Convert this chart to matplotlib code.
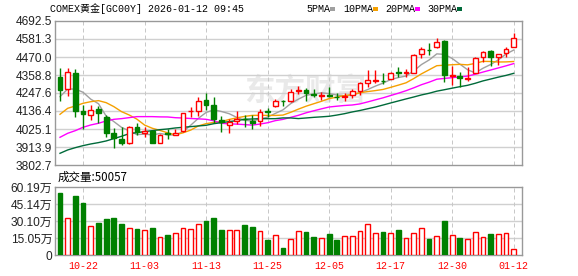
import matplotlib
matplotlib.use("Agg")
import matplotlib.pyplot as plt
from matplotlib.patches import Rectangle

# ---------------- data ----------------
opens = [4348.7, 4270.4, 4373.4, 4138.7, 4113.9, 4146.9, 4097.5, 3998.6, 3963.6, 3941.0,
         4035.7, 4002.8, 4013.0, 3941.0, 3998.6, 3988.3, 4013.0, 4134.0, 4136.6, 4204.5,
         4173.6, 4081.0, 4048.0, 4077.0, 4089.0, 4076.9, 4076.9, 4134.5, 4167.5, 4200.4,
         4198.4, 4260.0, 4266.2, 4241.6, 4231.0, 4233.0, 4225.0, 4223.0, 4235.4, 4262.2,
         4311.6, 4323.0, 4323.0, 4336.3, 4375.5, 4371.0, 4373.4, 4486.6, 4515.4, 4529.9,
         4569.0, 4352.0, 4352.0, 4334.0, 4373.4, 4468.0, 4507.2, 4472.2, 4492.8, 4534.0]
highs = [4400.0, 4404.3, 4396.0, 4173.6, 4173.6, 4167.5, 4111.9, 4029.5, 4039.8, 4044.0,
         4060.4, 4035.7, 4019.2, 3994.5, 4027.5, 4027.5, 4126.3, 4159.0, 4225.0, 4249.8,
         4221.0, 4107.8, 4085.0, 4138.7, 4111.9, 4111.9, 4146.9, 4157.0, 4210.7, 4204.5,
         4272.5, 4291.0, 4276.6, 4270.4, 4256.0, 4286.9, 4245.7, 4249.8, 4270.4, 4317.8,
         4389.9, 4389.9, 4373.4, 4379.6, 4406.3, 4394.0, 4486.6, 4534.0, 4554.6, 4585.5,
         4578.0, 4414.0, 4378.0, 4410.0, 4468.0, 4507.2, 4513.4, 4486.6, 4534.0, 4616.3]
lows = [4200.0, 4229.3, 4097.5, 4023.4, 4081.0, 4060.4, 3978.0, 3906.0, 3926.6, 3930.7,
        3988.3, 3974.0, 3936.9, 3937.0, 3965.7, 3986.0, 4006.9, 4101.6, 4105.7, 4142.8,
        4064.5, 4008.9, 3998.6, 4056.3, 4039.8, 4025.4, 4044.0, 4097.5, 4159.2, 4167.5,
        4194.0, 4241.6, 4200.4, 4221.0, 4204.5, 4225.0, 4204.5, 4200.4, 4214.8, 4235.4,
        4287.0, 4307.5, 4303.4, 4332.2, 4348.7, 4344.6, 4373.4, 4461.9, 4482.5, 4523.7,
        4317.8, 4300.0, 4287.0, 4324.0, 4369.3, 4441.3, 4414.5, 4420.7, 4468.0, 4529.9]
closes = [4266.3, 4379.6, 4138.7, 4120.1, 4142.8, 4126.3, 3998.6, 3967.8, 3941.0, 4035.7,
          4009.0, 4015.1, 3941.0, 3986.3, 3994.5, 4002.8, 4122.2, 4137.0, 4200.4, 4173.6,
          4085.0, 4070.7, 4068.6, 4085.0, 4085.0, 4064.5, 4128.4, 4130.4, 4198.4, 4196.3,
          4256.0, 4266.2, 4249.8, 4237.5, 4235.0, 4231.0, 4221.0, 4227.0, 4260.0, 4307.5,
          4328.0, 4327.0, 4320.0, 4369.3, 4371.4, 4375.0, 4482.6, 4517.5, 4511.3, 4560.8,
          4359.0, 4356.0, 4343.0, 4338.0, 4461.9, 4503.0, 4472.2, 4486.6, 4517.5, 4585.5]

ma5 = [4225.0, 4272.0, 4272.0, 4252.0, 4209.5, 4181.5, 4105.3, 4071.1, 4035.3, 4013.9,
       3990.4, 3993.7, 3988.4, 3997.4, 3989.2, 3987.9, 4009.4, 4048.6, 4091.4, 4127.2,
       4143.6, 4133.3, 4119.7, 4096.6, 4078.9, 4074.8, 4086.3, 4098.7, 4121.3, 4143.6,
       4181.9, 4209.5, 4233.3, 4241.2, 4248.9, 4243.9, 4234.9, 4230.3, 4234.8, 4249.3,
       4268.7, 4289.9, 4308.5, 4330.4, 4343.1, 4352.5, 4383.7, 4423.2, 4451.6, 4489.4,
       4486.2, 4460.9, 4426.0, 4391.4, 4371.6, 4400.4, 4423.6, 4452.3, 4488.2, 4513.0]
ma10 = [4115.9, 4153.0, 4167.5, 4184.0, 4194.0, 4200.4, 4188.0, 4163.4, 4132.5, 4111.7,
        4086.0, 4049.5, 4029.7, 4016.4, 4001.5, 3989.2, 4001.5, 4018.5, 4044.4, 4058.2,
        4065.8, 4071.4, 4084.1, 4094.0, 4103.0, 4109.2, 4109.8, 4109.2, 4109.0, 4111.2,
        4128.3, 4147.9, 4166.0, 4181.3, 4196.3, 4212.9, 4222.2, 4231.8, 4238.0, 4249.1,
        4256.3, 4262.4, 4269.4, 4282.6, 4296.2, 4310.6, 4336.8, 4365.8, 4391.0, 4416.3,
        4419.4, 4422.3, 4424.6, 4421.5, 4430.5, 4443.3, 4442.3, 4439.2, 4439.8, 4442.3]
ma20 = [3973.9, 3998.6, 4015.1, 4035.7, 4050.1, 4060.4, 4074.8, 4085.0, 4089.2, 4095.4,
        4101.6, 4101.6, 4101.6, 4100.0, 4099.5, 4095.0, 4093.0, 4090.0, 4088.0, 4085.0,
        4075.9, 4060.5, 4056.9, 4055.2, 4052.3, 4049.2, 4055.7, 4063.9, 4076.7, 4084.7,
        4097.1, 4109.7, 4125.1, 4137.7, 4149.7, 4161.1, 4166.0, 4170.5, 4173.5, 4180.2,
        4192.3, 4205.2, 4217.7, 4232.0, 4246.3, 4261.8, 4279.5, 4298.8, 4314.5, 4332.7,
        4337.9, 4342.4, 4347.0, 4352.1, 4363.4, 4377.0, 4389.6, 4402.5, 4415.4, 4429.3]
ma30 = [3875.0, 3895.7, 3910.0, 3922.4, 3932.7, 3941.0, 3951.3, 3965.7, 3980.1, 3996.6,
        4002.8, 4009.0, 4015.0, 4021.0, 4025.4, 4031.6, 4035.7, 4039.8, 4044.0, 4048.0,
        4058.0, 4064.5, 4070.7, 4076.9, 4085.0, 4087.0, 4089.0, 4089.0, 4089.0, 4093.7,
        4093.4, 4089.6, 4093.3, 4097.2, 4100.3, 4103.8, 4111.2, 4119.8, 4130.5, 4139.5,
        4150.1, 4160.6, 4173.2, 4186.0, 4198.5, 4210.9, 4222.9, 4235.6, 4246.0, 4258.9,
        4268.0, 4277.5, 4286.7, 4295.1, 4307.7, 4322.3, 4333.8, 4345.6, 4356.3, 4369.2]

volumes_wan = [55.2, 32.4, 51.8, 45.7, 25.4, 28.3, 31.8, 32.4, 27.4, 23.7,
               23.1, 21.9, 23.9, 15.8, 17.8, 19.6, 23.9, 23.1, 27.4, 30.0,
               32.6, 22.2, 22.2, 22.2, 26.5, 24.8, 21.0, 12.9, 17.6, 6.3,
               14.1, 21.0, 20.4, 16.1, 15.0, 18.7, 13.5, 16.7, 16.7, 21.0,
               27.1, 19.6, 20.4, 19.6, 22.2, 15.0, 19.6, 23.7, 14.4, 16.7,
               30.0, 17.8, 15.2, 14.1, 20.4, 15.8, 18.7, 18.7, 19.6, 5.0]

date_ticks = [3, 11, 19, 27, 35, 43, 51, 59]
date_labels = ['10-22', '11-03', '11-13', '11-25', '12-05', '12-17', '12-30', '01-12']

price_ticks = [3802.7, 3913.9, 4025.1, 4136.4, 4247.6, 4358.8, 4470.0, 4581.3, 4692.5]
price_labels = ['3802.7', '3913.9', '4025.1', '4136.4', '4247.6', '4358.8', '4470.0', '4581.3', '4692.5']
vol_ticks = [0, 15.05, 30.10, 45.14, 60.19]
vol_labels = ['0', '15.05万', '30.10万', '45.14万', '60.19万']

title_text = 'COMEX黄金[GC00Y] 2026-01-12 09:45'
vol_title = '成交量:50057'
ma_names = ['5PMA', '10PMA', '20PMA', '30PMA']

# ---------------- style ----------------
W, H = 578, 276
RED = '#ff0000'
GREEN = '#008000'
MA_COLORS = ['#a0a0a0', '#f5a000', '#ff00ff', '#006a3a']
GRID = '#d0d0d0'
FRAME = '#999999'
LW1 = 0.72  # ~1px

fig = plt.figure(figsize=(W / 100, H / 100), dpi=100)
fig.patch.set_facecolor('white')

def px_axes(x0, y0, x1, y1):
    return fig.add_axes([x0 / W, 1 - y1 / H, (x1 - x0) / W, (y1 - y0) / H])

axp = px_axes(55, 21, 522, 165)
axv = px_axes(55, 187, 522, 255)

n = len(closes)
xs = list(range(n))
xlim = (-0.65, 60.08)
body_w = 0.62

for ax in (axp, axv):
    ax.set_xlim(*xlim)
    for s in ax.spines.values():
        s.set_color(FRAME)
        s.set_linewidth(1.0)
    ax.tick_params(length=0)
    ax.set_xticks([])
    for t in date_ticks:
        ax.axvline(t, color='#c8c8c8', lw=LW1, ls=(0, (4, 3)), zorder=0.5)

# watermark
axp.text(0.535, 0.52, '东方财富', transform=axp.transAxes, ha='center', va='center',
         fontsize=22, color='#e9e9e9', fontweight='bold',
         family=['Noto Sans CJK SC'], zorder=0.3)

# price panel
axp.set_ylim(price_ticks[0], price_ticks[-1])
axp.set_yticks(price_ticks)
axp.set_yticklabels(price_labels, family=['Liberation Sans'], fontsize=8.6, color='#222222')
axp.tick_params(axis='y', pad=2)
for t in price_ticks[1:-1]:
    axp.axhline(t, color=GRID, lw=1.0, zorder=0.4)

for i in xs:
    o, h, l, c = opens[i], highs[i], lows[i], closes[i]
    up = c >= o
    col = RED if up else GREEN
    axp.vlines(i, l, h, color=col, lw=1.0, zorder=3)
    bottom = min(o, c)
    height = max(abs(c - o), 0.5)
    axp.add_patch(Rectangle((i - body_w / 2, bottom), body_w, height,
                            facecolor='white' if up else GREEN,
                            edgecolor=col, lw=1.0, zorder=4))

for vals, colr in zip([ma5, ma10, ma20, ma30], MA_COLORS):
    axp.plot(xs, vals, color=colr, lw=1.0, zorder=2.5)

# volume panel
axv.set_ylim(0, vol_ticks[-1])
axv.set_yticks(vol_ticks)
axv.set_yticklabels(vol_labels, family=['Liberation Sans', 'Noto Sans CJK SC'],
                    fontsize=8.6, color='#222222')
axv.tick_params(axis='y', pad=2)
for t in vol_ticks[1:-1]:
    axv.axhline(t, color=GRID, lw=1.0, zorder=0.4)
for i in xs:
    up = closes[i] >= opens[i]
    col = RED if up else GREEN
    axv.bar(i, volumes_wan[i], width=body_w, facecolor='white' if up else GREEN,
            edgecolor=col, lw=1.0, zorder=3)

# date labels
for t, lab in zip(date_ticks, date_labels):
    xf = (55 + (t - xlim[0]) / (xlim[1] - xlim[0]) * 467) / W
    fig.text(xf, 1 - 266 / H, lab, ha='center', va='center', color=RED,
             fontsize=7.2, family=['Liberation Mono'])

# header
fig.text(50 / W, 1 - 9 / H, title_text, ha='left', va='center', fontsize=7.2,
         family=['Liberation Mono', 'Noto Sans CJK SC'], color='#000000')

leg_x = [306, 343, 385, 427]
sq_x = [330, 373, 415, 457]
for name, colr, tx, sx in zip(ma_names, MA_COLORS, leg_x, sq_x):
    fig.text(tx / W, 1 - 9 / H, name, ha='left', va='center', fontsize=7.2,
             family=['Liberation Mono'], color='#000000')
    fig.patches.append(Rectangle((sx / W, 1 - 11 / H), 5 / W, 4 / H,
                                 transform=fig.transFigure, facecolor=colr,
                                 edgecolor='none', figure=fig))

fig.text(58 / W, 1 - 177 / H, vol_title, ha='left', va='center', fontsize=8.3,
         family=['Noto Sans CJK SC', 'DejaVu Sans'], color='#000000')

fig.savefig('out.png', dpi=100, facecolor='white')
